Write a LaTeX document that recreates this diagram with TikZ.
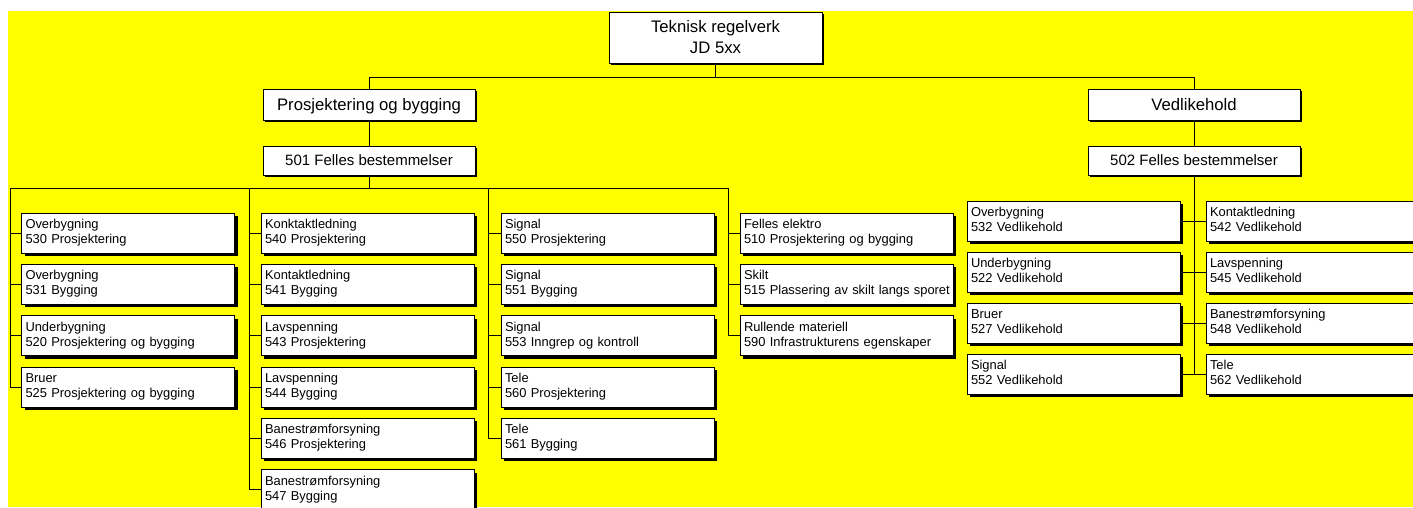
\documentclass[tikz,border=0pt]{standalone}
\usepackage{fontspec}
\setmainfont{Liberation Sans}
\usetikzlibrary{shadows}
\definecolor{bgyellow}{RGB}{255,255,0}
\begin{document}
\begin{tikzpicture}[x=1pt,y=-1pt,
  box/.style={draw=black, line width=0.7pt, fill=white, inner sep=0pt, text=black},
  shtwo/.style={drop shadow={shadow xshift=2pt, shadow yshift=-2pt, fill=black, opacity=1}},
  shthree/.style={drop shadow={shadow xshift=3pt, shadow yshift=-3pt, fill=black, opacity=1}},
  headbox/.style={box, shtwo, minimum width=212pt, minimum height=31pt,
    font=\fontsize{16.7}{20}\selectfont, text height=12pt, text depth=0.5pt},
  subbox/.style={box, shtwo, minimum width=212pt, minimum height=29pt,
    font=\fontsize{15}{18}\selectfont, text height=11pt, text depth=2pt},
  leaf/.style={box, shthree, minimum height=40pt, text width=205pt, inner xsep=4pt,
    align=left, font=\fontsize{12.9}{15}\selectfont,
    execute at begin node=\strut, execute at end node=\strut},
  conn/.style={draw=black, line width=0.8pt}
]
\useasboundingbox (0,0) rectangle (1413,507);
\fill[white] (0,0) rectangle (1413,507);
\fill[bgyellow] (8,11) rectangle (1413,507);
\clip (0,0) rectangle (1413,507);

% top
\node[box, shtwo, minimum width=213pt, minimum height=51pt, align=center,
  font=\fontsize{16.7}{21}\selectfont] (top) at (715.5,37.5) {Teknisk regelverk\\JD 5xx};
\node[headbox] (pb) at (369,104.5) {Prosjektering og bygging};
\node[headbox] (vd) at (1194,104.5) {Vedlikehold};
\node[subbox] (f501) at (369,160.5) {501 Felles bestemmelser};
\node[subbox] (f502) at (1194,160.5) {502 Felles bestemmelser};

% column 1
\node[leaf] (c1a) at (128,233) {Overbygning\\530 Prosjektering};
\node[leaf] (c1b) at (128,284.3) {Overbygning\\531 Bygging};
\node[leaf] (c1c) at (128,335.6) {Underbygning\\520 Prosjektering og bygging};
\node[leaf] (c1d) at (128,386.9) {Bruer\\525 Prosjektering og bygging};
% column 2
\node[leaf] (c2a) at (367.5,233) {Konktaktledning\\540 Prosjektering};
\node[leaf] (c2b) at (367.5,284.3) {Kontaktledning\\541 Bygging};
\node[leaf] (c2c) at (367.5,335.6) {Lavspenning\\543 Prosjektering};
\node[leaf] (c2d) at (367.5,386.9) {Lavspenning\\544 Bygging};
\node[leaf] (c2e) at (367.5,438.2) {Banestrømforsyning\\546 Prosjektering};
\node[leaf] (c2f) at (367.5,489.5) {Banestrømforsyning\\547 Bygging};
% column 3
\node[leaf] (c3a) at (607.5,233) {Signal\\550 Prosjektering};
\node[leaf] (c3b) at (607.5,284.3) {Signal\\551 Bygging};
\node[leaf] (c3c) at (607.5,335.6) {Signal\\553 Inngrep og kontroll};
\node[leaf] (c3d) at (607.5,386.9) {Tele\\560 Prosjektering};
\node[leaf] (c3e) at (607.5,438.2) {Tele\\561 Bygging};
% column 4
\node[leaf] (c4a) at (846.5,233) {Felles elektro\\510 Prosjektering og bygging};
\node[leaf] (c4b) at (846.5,284.3) {Skilt\\\mbox{515 Plassering av skilt langs sporet}};
\node[leaf] (c4c) at (846.5,335.6) {Rullende materiell\\590 Infrastrukturens egenskaper};
% right column A
\node[leaf] (rAa) at (1073.5,221) {Overbygning\\532 Vedlikehold};
\node[leaf] (rAb) at (1073.5,272) {Underbygning\\522 Vedlikehold};
\node[leaf] (rAc) at (1073.5,323) {Bruer\\527 Vedlikehold};
\node[leaf] (rAd) at (1073.5,374) {Signal\\552 Vedlikehold};
% right column B
\node[leaf] (rBa) at (1312.5,221) {Kontaktledning\\542 Vedlikehold};
\node[leaf] (rBb) at (1312.5,272) {Lavspenning\\545 Vedlikehold};
\node[leaf] (rBc) at (1312.5,323) {Banestrømforsyning\\548 Vedlikehold};
\node[leaf] (rBd) at (1312.5,374) {Tele\\562 Vedlikehold};

% connectors
\coordinate (j0) at (715.5,77.5);
\draw[conn] (top.south) -- (j0);
\draw[conn] (pb.north) |- (j0) -| (vd.north);
\draw[conn] (pb.south) -- (f501.north);
\draw[conn] (vd.south) -- (f502.north);

\coordinate (j1) at (369,188);
\coordinate (b1) at (10,188);
\coordinate (b2) at (249,188);
\coordinate (b3) at (488,188);
\coordinate (b4) at (728,188);
\draw[conn] (f501.south) -- (j1);
\draw[conn] (b1) -- (b4);
\foreach \n in {c1a,c1b,c1c,c1d} \draw[conn] (\n.west) -| (b1);
\foreach \n in {c2a,c2b,c2c,c2d,c2e,c2f} \draw[conn] (\n.west) -| (b2);
\foreach \n in {c3a,c3b,c3c,c3d,c3e} \draw[conn] (\n.west) -| (b3);
\foreach \n in {c4a,c4b,c4c} \draw[conn] (\n.west) -| (b4);

\coordinate (j2) at (1194,374);
\draw[conn] (f502.south) -- (j2);
\draw[conn] (rAa.east) -- (rBa.west);
\draw[conn] (rAb.east) -- (rBb.west);
\draw[conn] (rAc.east) -- (rBc.west);
\draw[conn] (rAd.east) -- (rBd.west);
\end{tikzpicture}
\end{document}
